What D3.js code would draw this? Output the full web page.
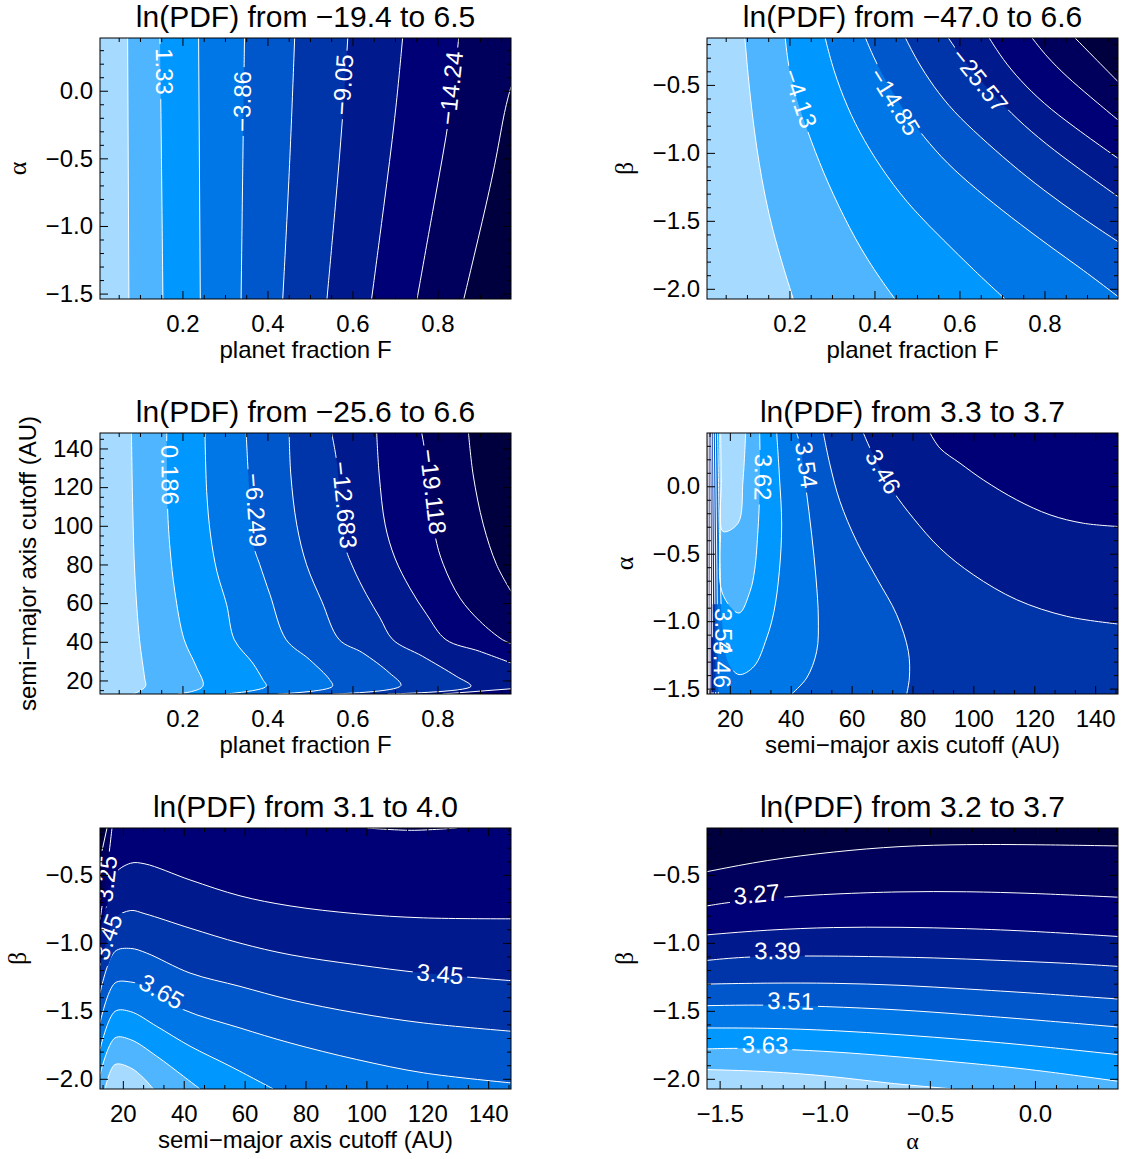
<!DOCTYPE html>
<html>
<head>
<meta charset="utf-8">
<script src="https://cdn.jsdelivr.net/npm/d3@7"></script>
<style>
  body { margin: 0; background: #fff; }
</style>
</head>
<body>
<svg id="chart" width="1122" height="1159"></svg>
<script>
// band colours, lowest ln(PDF) first
const palette = ['#00003f', '#00005c', '#000076', '#001a8e', '#0034a9', '#0056cb', '#0077e7', '#0098ff', '#50b5ff', '#a6daff'];

const pdfMin = [-19.4, -47.0, -25.6, 3.3, 3.1, 3.2];
const pdfMax = [6.5, 6.6, 6.6, 3.7, 4.0, 3.7];

const fracDomain = [0.006, 0.973];
const fracTicks = [0.2, 0.4, 0.6, 0.8];
const alphaDomainTop = [-1.54, 0.39];
const alphaDomainMid = [-1.54, 0.395];
const alphaDomainX = [-1.56, 0.395];
const alphaTicks = [-1.5, -1.0, -0.5, 0.0];
const betaDomain = [-2.075, -0.155];
const betaTicks = [-2.0, -1.5, -1.0, -0.5];
const cutoffDomainV = [13, 148];
const cutoffDomainX = [12.5, 147.5];
const cutoffTicks = [20, 40, 60, 80, 100, 120, 140];

// contour levels (ascending) and their lines; each level = list of pieces of [x, y]
// pieces run with the higher-valued side on their right
const fracAlphaLevels = [-16.835, -14.24, -11.645, -9.05, -6.455, -3.86, -1.265, 1.33, 3.925];
const fracAlphaLines = [
  [[[0.973, 0.03], [0.956, -0.165], [0.937, -0.534], [0.901, -1.027], [0.862, -1.54]]],
  [[[0.850, 0.39], [0.831, -0.17], [0.791, -0.85], [0.752, -1.54]]],
  [[[0.718, 0.39], [0.701, -0.19], [0.674, -0.85], [0.645, -1.54]]],
  [[[0.589, 0.39], [0.577, -0.21], [0.560, -0.85], [0.540, -1.54]]],
  [[[0.464, 0.39], [0.453, -0.53], [0.436, -1.54]]],
  [[[0.346, 0.39], [0.343, -0.29], [0.338, -1.54]]],
  [[[0.238, 0.39], [0.242, -1.54]]],
  [[[0.147, 0.39], [0.150, -0.29], [0.154, -1.54]]],
  [[[0.071, 0.39], [0.074, -1.54]]]
];
// label centres
const fracAlphaLabels = [
  { level: 7, at: [0.158, 0.143], dir: 'down' },
  { level: 5, at: [0.340, -0.079], dir: 'up' },
  { level: 3, at: [0.577, 0.044], dir: 'up' },
  { level: 1, at: [0.831, 0.020], dir: 'up' }
];

const fracBetaLevels = [-41.64, -36.28, -30.92, -25.57, -20.21, -14.85, -9.49, -4.13, 1.23];
const fracBetaLines = [
  [[[0.872, -0.155], [0.915, -0.292], [0.973, -0.476]]],
  [[[0.771, -0.155], [0.805, -0.292], [0.852, -0.439], [0.907, -0.586], [0.973, -0.758]]],
  [[[0.670, -0.155], [0.703, -0.317], [0.742, -0.464], [0.797, -0.635], [0.868, -0.807], [0.973, -1.040]]],
  [[[0.574, -0.155], [0.601, -0.280], [0.648, -0.464], [0.695, -0.623], [0.750, -0.795], [0.821, -0.979], [0.907, -1.175], [0.973, -1.322]]],
  [[[0.473, -0.155], [0.499, -0.317], [0.539, -0.513], [0.586, -0.697], [0.648, -0.880], [0.719, -1.077], [0.797, -1.273], [0.884, -1.469], [0.973, -1.653]]],
  [[[0.379, -0.155], [0.397, -0.292], [0.429, -0.488], [0.468, -0.684], [0.515, -0.880], [0.570, -1.077], [0.641, -1.273], [0.719, -1.469], [0.813, -1.689], [0.891, -1.861], [0.973, -2.057]]],
  [[[0.284, -0.155], [0.303, -0.390], [0.335, -0.660], [0.374, -0.905], [0.429, -1.175], [0.491, -1.420], [0.562, -1.640], [0.633, -1.861], [0.707, -2.075]]],
  [[[0.190, -0.155], [0.201, -0.464], [0.241, -0.831], [0.280, -1.150], [0.327, -1.469], [0.382, -1.787], [0.448, -2.075]]],
  [[[0.095, -0.155], [0.107, -0.586], [0.127, -1.077], [0.158, -1.567], [0.209, -2.075]]]
];
const fracBetaLabels = [
  { level: 7, at: [0.225, -0.599], dir: 'down' },
  { level: 5, at: [0.448, -0.623], dir: 'down' },
  { level: 3, at: [0.648, -0.464], dir: 'down' }
];

const fracCutoffLevels = [-22.336, -19.118, -15.901, -12.683, -9.466, -6.249, -3.032, 0.186, 3.404];
const fracCutoffLines = [
  [[[0.873, 148], [0.884, 126.3], [0.908, 100.5], [0.939, 79.9], [0.973, 66.1]]],
  [[[0.763, 148], [0.771, 137.5], [0.794, 95.3], [0.814, 79.9], [0.853, 62.6], [0.900, 50.6], [0.953, 41.1], [0.973, 39.1]]],
  [[[0.657, 148], [0.663, 126.3], [0.677, 100.5], [0.700, 83.3], [0.735, 67.8], [0.775, 54.0], [0.820, 41.1], [0.899, 35.1], [0.973, 29.1]],
   [[0.973, 15.7], [0.812, 13]]],
  [[[0.551, 148], [0.563, 133.2], [0.582, 90.2], [0.602, 78.1], [0.633, 64.4], [0.665, 52.3], [0.695, 41.1], [0.765, 32.5], [0.844, 22.2], [0.879, 17.0], [0.683, 13]]],
  [[[0.451, 148], [0.455, 126.3], [0.469, 100.5], [0.492, 79.9], [0.528, 60.9], [0.569, 41.1], [0.624, 34.3], [0.687, 23.9], [0.714, 17.4], [0.553, 13]]],
  [[[0.350, 148], [0.355, 126.3], [0.367, 90.2], [0.382, 79.9], [0.406, 64.4], [0.444, 41.1], [0.499, 30.8], [0.546, 20.5], [0.553, 17.0], [0.424, 13]]],
  [[[0.253, 148], [0.257, 117.7], [0.266, 95.3], [0.281, 76.4], [0.304, 59.2], [0.322, 41.1], [0.365, 29.1], [0.389, 20.5], [0.397, 17.0], [0.302, 13]]],
  [[[0.163, 148], [0.165, 109.1], [0.171, 87.6], [0.182, 66.1], [0.204, 41.1], [0.232, 27.4], [0.248, 17.0], [0.189, 13]]],
  [[[0.080, 148], [0.083, 109.1], [0.088, 74.7], [0.099, 41.1], [0.111, 21.3], [0.113, 16.9], [0.084, 13]]]
];
const fracCutoffLabels = [
  { level: 7, at: [0.171, 126.3], dir: 'down' },
  { level: 5, at: [0.373, 108.2], dir: 'down' },
  { level: 3, at: [0.582, 110.8], dir: 'down' },
  { level: 1, at: [0.790, 117.7], dir: 'down' }
];

const cutoffAlphaLevels = [3.34, 3.38, 3.42, 3.46, 3.50, 3.54, 3.58, 3.62, 3.66];
const cutoffAlphaLines = [
  [[[12.94, -1.54], [12.72, 0.395]]],
  [[[13.27, -1.54], [13.05, 0.395]]],
  [[[13.81, -1.54], [13.49, 0.395]],
   [[85.76, 0.395], [89.04, 0.282], [95.61, 0.171], [103.28, 0.047], [114.23, -0.101], [125.18, -0.212], [136.13, -0.274], [147.5, -0.298]]],
  [[[14.47, -1.54], [14.03, 0.395]],
   [[63.86, 0.395], [66.05, 0.282], [69.33, 0.134], [73.71, -0.039], [80.28, -0.237], [89.04, -0.459], [99.99, -0.656], [114.23, -0.841], [130.66, -0.964], [147.5, -1.021]]],
  [[[15.35, -1.54], [14.58, 0.395]],
   [[50.72, 0.395], [52.91, 0.158], [56.19, -0.113], [61.67, -0.409], [68.24, -0.681], [74.81, -0.952], [78.64, -1.224], [78.97, -1.421], [78.10, -1.54]]],
  [[[16.22, -1.54], [15.24, 0.395]],
   [[41.96, 0.395], [43.05, 0.306], [45.02, -0.015], [46.89, -0.360], [48.31, -0.681], [49.07, -0.977], [48.53, -1.224], [45.24, -1.421], [40.31, -1.54]]],
  [[[35.39, 0.395], [36.26, 0.084], [37.03, -0.286], [36.26, -0.631], [34.51, -0.927], [32.10, -1.125], [27.94, -1.335], [23.01, -1.396], [19.51, -1.310], [17.54, -1.026], [16.77, -0.533], [16.00, 0.395]]],
  [[[29.80, 0.395], [29.91, 0.208], [29.69, -0.113], [29.25, -0.323], [28.16, -0.619], [26.63, -0.779], [23.01, -0.940], [17.54, -0.792], [16.99, -0.286], [16.66, 0.395]]],
  [[[25.20, 0.395], [24.33, 0.047], [22.68, -0.274], [17.76, -0.335], [17.21, 0.047], [16.99, 0.395]]]
];
const cutoffAlphaLabels = [
  { level: 7, at: [31.0, 0.067], dir: 'down' },
  { level: 5, at: [45.24, 0.158], dir: 'down' },
  { level: 3, at: [70.43, 0.109], dir: 'down' },
  { level: 5, at: [18.08, -1.076], dir: 'down' },
  { level: 3, at: [17.54, -1.322], dir: 'down' }
];

const cutoffBetaLevels = [3.15, 3.25, 3.35, 3.45, 3.55, 3.65, 3.75, 3.85, 3.95];
const cutoffBetaLines = [
  [[[12.5, -0.390], [14.80, -0.155]]],
  [[[12.5, -0.830], [14.47, -0.529], [16.44, -0.155]],
   [[100.1, -0.155], [114.9, -0.172], [129.7, -0.155]]],
  [[[12.5, -0.904], [15.24, -0.684], [17.21, -0.495], [22.58, -0.414], [27.28, -0.419], [42.07, -0.537], [58.49, -0.654], [74.92, -0.728], [96.82, -0.786], [118.7, -0.816], [147.5, -0.823]]],
  [[[12.5, -1.168], [14.91, -0.977], [17.43, -0.818], [22.58, -0.762], [27.28, -0.786], [42.07, -0.892], [58.49, -1.002], [74.92, -1.087], [96.82, -1.161], [118.7, -1.222], [147.5, -1.278]]],
  [[[12.5, -1.369], [17.43, -1.063], [22.58, -1.041], [27.83, -1.075], [42.07, -1.222], [58.49, -1.320], [74.92, -1.418], [96.82, -1.516], [118.7, -1.589], [147.5, -1.650]]],
  [[[12.5, -1.589], [17.43, -1.295], [22.58, -1.288], [25.64, -1.308], [39.88, -1.491], [58.49, -1.626], [74.92, -1.736], [96.82, -1.858], [118.7, -1.956], [147.5, -2.030]]],
  [[[12.5, -1.785], [17.43, -1.504], [22.58, -1.506], [31.12, -1.614], [42.07, -1.760], [55.21, -1.907], [69.44, -2.075]]],
  [[[12.5, -1.969], [17.43, -1.699], [22.58, -1.712], [31.12, -1.834], [39.88, -1.981], [45.35, -2.075]]],
  [[[14.14, -2.075], [17.43, -1.895], [22.58, -1.920], [26.74, -1.993], [30.02, -2.075]]]
];
const cutoffBetaLabels = [
  { level: 1, at: [14.5, -0.529], dir: 'up' },
  { level: 3, at: [14.8, -0.955], dir: 'up' },
  { level: 3, at: [124.2, -1.227], dir: 'right' },
  { level: 5, at: [32.76, -1.357], dir: 'right' }
];

const alphaBetaLevels = [3.21, 3.27, 3.33, 3.39, 3.45, 3.51, 3.57, 3.63, 3.69];
const alphaBetaLines = [
  [[[-1.560, -0.476], [-1.276, -0.390], [-0.959, -0.329], [-0.642, -0.287], [-0.325, -0.275], [-0.008, -0.277], [0.395, -0.287]]],
  [[[-1.560, -0.728], [-1.435, -0.696], [-1.173, -0.659], [-0.959, -0.640], [-0.642, -0.622], [-0.325, -0.622], [-0.008, -0.635], [0.395, -0.664]]],
  [[[-1.560, -0.941], [-1.276, -0.904], [-0.959, -0.884], [-0.642, -0.884], [-0.325, -0.894], [-0.008, -0.914], [0.395, -0.953]]],
  [[[-1.560, -1.129], [-1.371, -1.100], [-1.070, -1.095], [-0.800, -1.100], [-0.483, -1.109], [-0.166, -1.129], [0.151, -1.149], [0.395, -1.173]]],
  [[[-1.560, -1.303], [-1.276, -1.295], [-0.959, -1.295], [-0.642, -1.310], [-0.325, -1.339], [-0.008, -1.369], [0.395, -1.413]]],
  [[[-1.560, -1.462], [-1.300, -1.455], [-1.007, -1.467], [-0.642, -1.491], [-0.325, -1.528], [-0.008, -1.565], [0.395, -1.619]]],
  [[[-1.560, -1.626], [-1.276, -1.626], [-0.959, -1.643], [-0.642, -1.675], [-0.325, -1.712], [-0.008, -1.756], [0.395, -1.822]]],
  [[[-1.560, -1.780], [-1.403, -1.773], [-1.141, -1.785], [-0.880, -1.809], [-0.642, -1.839], [-0.325, -1.883], [-0.008, -1.932], [0.395, -2.018]]],
  [[[-1.560, -1.932], [-1.276, -1.944], [-0.959, -1.981], [-0.721, -2.030], [-0.388, -2.075]]]
];
const alphaBetaLabels = [
  { level: 1, at: [-1.324, -0.640], dir: 'right' },
  { level: 3, at: [-1.225, -1.056], dir: 'right' },
  { level: 5, at: [-1.162, -1.425], dir: 'right' },
  { level: 7, at: [-1.284, -1.748], dir: 'right' }
];

const sans = '"Liberation Sans", Arial, Helvetica, sans-serif';
const serif = '"Liberation Serif", "Times New Roman", serif';
const W = 411, H = 261;
const colX = [100, 707];
const rowY = [38, 433, 828];

const fracAxis = { domain: fracDomain, ticks: fracTicks, minor: 0.05, fmt: '.1f', title: 'planet fraction F' };
const cutoffAxisX = { domain: cutoffDomainX, ticks: cutoffTicks, minor: 20 / 3, fmt: 'd', title: 'semi\u2212major axis cutoff (AU)' };

const panels = [
  { col: 0, row: 0, lines: fracAlphaLines, levels: fracAlphaLevels, labels: fracAlphaLabels, labelFmt: '.2f', smooth: true,
    x: fracAxis,
    y: { domain: alphaDomainTop, ticks: alphaTicks, minor: 0.1, fmt: '.1f', title: '\u03b1', greek: true } },
  { col: 1, row: 0, lines: fracBetaLines, levels: fracBetaLevels, labels: fracBetaLabels, labelFmt: '.2f', smooth: true,
    x: fracAxis,
    y: { domain: betaDomain, ticks: betaTicks, minor: 0.1, fmt: '.1f', title: '\u03b2', greek: true } },
  { col: 0, row: 1, lines: fracCutoffLines, levels: fracCutoffLevels, labels: fracCutoffLabels, labelFmt: '.3f',
    x: fracAxis,
    y: { domain: cutoffDomainV, ticks: cutoffTicks, minor: 5, fmt: 'd', title: 'semi\u2212major axis cutoff (AU)' } },
  { col: 1, row: 1, lines: cutoffAlphaLines, levels: cutoffAlphaLevels, labels: cutoffAlphaLabels, labelFmt: '.2f',
    x: cutoffAxisX,
    y: { domain: alphaDomainMid, ticks: alphaTicks, minor: 0.1, fmt: '.1f', title: '\u03b1', greek: true } },
  { col: 0, row: 2, lines: cutoffBetaLines, levels: cutoffBetaLevels, labels: cutoffBetaLabels, labelFmt: '.2f',
    x: cutoffAxisX,
    y: { domain: betaDomain, ticks: betaTicks, minor: 0.1, fmt: '.1f', title: '\u03b2', greek: true } },
  { col: 1, row: 2, lines: alphaBetaLines, levels: alphaBetaLevels, labels: alphaBetaLabels, labelFmt: '.2f', smooth: true,
    x: { domain: alphaDomainX, ticks: alphaTicks, minor: 0.1, fmt: '.1f', title: '\u03b1', greek: true },
    y: { domain: betaDomain, ticks: betaTicks, minor: 0.1, fmt: '.1f', title: '\u03b2', greek: true } }
];

const svg = d3.select('#chart');
const defs = svg.append('defs');

// position along the plot border, clockwise from the top-left corner (0..4)
function perim(p, b) {
  const dT = Math.abs(p[1] - b.y0), dB = Math.abs(p[1] - b.y1);
  const dL = Math.abs(p[0] - b.x0), dR = Math.abs(p[0] - b.x1);
  const m = Math.min(dT, dB, dL, dR);
  if (m === dT) return (p[0] - b.x0) / (b.x1 - b.x0);
  if (m === dR) return 1 + (p[1] - b.y0) / (b.y1 - b.y0);
  if (m === dB) return 2 + (b.x1 - p[0]) / (b.x1 - b.x0);
  return 3 + (b.y1 - p[1]) / (b.y1 - b.y0);
}

// closes the pieces of one level into the region above that level
function regionPath(pieces, b, line) {
  const corners = [[b.x0, b.y0], [b.x1, b.y0], [b.x1, b.y1], [b.x0, b.y1]];
  const left = pieces.map((_, i) => i);
  let d = '';
  while (left.length) {
    const first = left.shift();
    let cur = first;
    d += line(pieces[cur]);
    for (;;) {
      const tEnd = perim(pieces[cur][pieces[cur].length - 1], b);
      const gap = j => { let g = perim(pieces[j][0], b) - tEnd; if (g < 0) g += 4; return g; };
      let best = first, bestGap = gap(first);
      left.forEach(j => { const g = gap(j); if (g < bestGap) { best = j; bestGap = g; } });
      for (let k = Math.floor(tEnd) + 1; k < tEnd + bestGap; k++) {
        const c = corners[k % 4];
        d += `L${c[0]},${c[1]}`;
      }
      if (best === first) { d += 'Z'; break; }
      left.splice(left.indexOf(best), 1);
      d += line(pieces[best]).replace(/^M/, 'L');
      cur = best;
    }
  }
  return d;
}

function nearestOn(pieces, p) {
  let best = { d: Infinity };
  pieces.forEach(pc => {
    for (let i = 0; i < pc.length - 1; i++) {
      const [ax, ay] = pc[i], [bx, by] = pc[i + 1];
      const dx = bx - ax, dy = by - ay;
      const s = Math.max(0, Math.min(1, ((p[0] - ax) * dx + (p[1] - ay) * dy) / (dx * dx + dy * dy)));
      const qx = ax + s * dx, qy = ay + s * dy;
      const d = (p[0] - qx) ** 2 + (p[1] - qy) ** 2;
      if (d < best.d) best = { d, x: qx, y: qy, dx, dy };
    }
  });
  return best;
}

function minorValues(domain, step, majors) {
  const out = [];
  for (let k = Math.ceil(domain[0] / step - 1e-6); k * step <= domain[1] + 1e-9; k++) {
    const v = k * step;
    if (!majors.some(m => Math.abs(m - v) < step / 10)) out.push(v);
  }
  return out;
}

function addAxis(axis, tx, ty) {
  const g = svg.append('g').attr('transform', `translate(${tx},${ty})`).call(axis);
  g.select('.domain').remove();
  g.selectAll('.tick line').attr('stroke', '#000');
  g.selectAll('.tick text').attr('fill', '#000').style('font', `24px ${sans}`);
}

panels.forEach((p, i) => {
  const x0 = colX[p.col], y0 = rowY[p.row];
  const b = { x0, y0, x1: x0 + W, y1: y0 + H };
  const x = d3.scaleLinear().domain(p.x.domain).range([b.x0, b.x1]);
  const y = d3.scaleLinear().domain(p.y.domain).range([b.y1, b.y0]);
  const line = d3.line().curve(p.smooth ? d3.curveBasis : d3.curveCatmullRom.alpha(0.5));
  const pix = p.lines.map(level => level.map(pc => pc.map(d => [x(d[0]), y(d[1])])));

  defs.append('clipPath').attr('id', 'clip' + i)
    .append('rect').attr('x', b.x0).attr('y', b.y0).attr('width', W).attr('height', H);
  const mask = defs.append('mask').attr('id', 'gap' + i).attr('maskUnits', 'userSpaceOnUse')
    .attr('x', 0).attr('y', 0).attr('width', 1122).attr('height', 1159);
  mask.append('rect').attr('width', 1122).attr('height', 1159).attr('fill', '#fff');

  const plot = svg.append('g').attr('clip-path', `url(#clip${i})`);
  plot.append('rect').attr('x', b.x0).attr('y', b.y0).attr('width', W).attr('height', H).attr('fill', palette[0]);
  pix.forEach((pieces, k) => {
    plot.append('path').attr('d', regionPath(pieces, b, line)).attr('fill', palette[k + 1]);
  });
  const lineG = plot.append('g').attr('mask', `url(#gap${i})`)
    .attr('fill', 'none').attr('stroke', '#fff').attr('stroke-width', 1);
  pix.forEach(pieces => pieces.forEach(pc => lineG.append('path').attr('d', line(pc))));

  // contour labels centred where the reference shows them, turned along their line
  const fmt = d3.format(p.labelFmt);
  p.labels.forEach(lb => {
    const cx = x(lb.at[0]), cy = y(lb.at[1]);
    const q = nearestOn(pix[lb.level], [cx, cy]);
    let ang = Math.atan2(q.dy, q.dx) * 180 / Math.PI;
    if ((lb.dir === 'down' && q.dy < 0) || (lb.dir === 'up' && q.dy > 0) || (lb.dir === 'right' && q.dx < 0)) ang += 180;
    const tf = `translate(${cx},${cy}) rotate(${ang})`;
    const t = svg.append('text').attr('transform', tf).attr('text-anchor', 'middle').attr('dy', '0.36em')
      .attr('fill', '#fff').style('font', `24px ${sans}`).text(fmt(p.levels[lb.level]));
    const w = t.node().getComputedTextLength();
    mask.append('rect').attr('transform', tf).attr('x', -w / 2 - 4).attr('y', -11)
      .attr('width', w + 8).attr('height', 22).attr('fill', '#000');
  });

  // box axes with inward ticks on all four sides
  const xMinor = minorValues(p.x.domain, p.x.minor, p.x.ticks);
  const yMinor = minorValues(p.y.domain, p.y.minor, p.y.ticks);
  addAxis(d3.axisBottom(x).tickValues(p.x.ticks).tickSize(-8).tickPadding(16).tickFormat(d3.format(p.x.fmt)), 0, b.y1);
  addAxis(d3.axisBottom(x).tickValues(xMinor).tickSize(-4).tickFormat(''), 0, b.y1);
  addAxis(d3.axisTop(x).tickValues(p.x.ticks).tickSize(-8).tickFormat(''), 0, b.y0);
  addAxis(d3.axisTop(x).tickValues(xMinor).tickSize(-4).tickFormat(''), 0, b.y0);
  addAxis(d3.axisLeft(y).tickValues(p.y.ticks).tickSize(-8).tickPadding(7).tickFormat(d3.format(p.y.fmt)), b.x0, 0);
  addAxis(d3.axisLeft(y).tickValues(yMinor).tickSize(-4).tickFormat(''), b.x0, 0);
  addAxis(d3.axisRight(y).tickValues(p.y.ticks).tickSize(-8).tickFormat(''), b.x1, 0);
  addAxis(d3.axisRight(y).tickValues(yMinor).tickSize(-4).tickFormat(''), b.x1, 0);
  svg.append('rect').attr('x', b.x0).attr('y', b.y0).attr('width', W).attr('height', H)
    .attr('fill', 'none').attr('stroke', '#000').attr('stroke-width', 1);

  const f1 = d3.format('.1f');
  svg.append('text').attr('x', b.x0 + W / 2).attr('y', b.y0 - 11.5).attr('text-anchor', 'middle')
    .style('font', `30px ${sans}`).text(`ln(PDF) from ${f1(pdfMin[i])} to ${f1(pdfMax[i])}`);

  svg.append('text').attr('x', b.x0 + W / 2).attr('y', b.y1 + (p.x.greek ? 60 : 59)).attr('text-anchor', 'middle')
    .style('font', p.x.greek ? `24px ${serif}` : `24px ${sans}`).text(p.x.title);
  const yx = p.y.greek ? b.x0 - 74.5 : b.x0 - 64;
  svg.append('text').attr('transform', `translate(${yx},${b.y0 + H / 2}) rotate(-90)`).attr('text-anchor', 'middle')
    .style('font', p.y.greek ? `26px ${serif}` : `24px ${sans}`).text(p.y.title);
});
</script>
</body>
</html>
